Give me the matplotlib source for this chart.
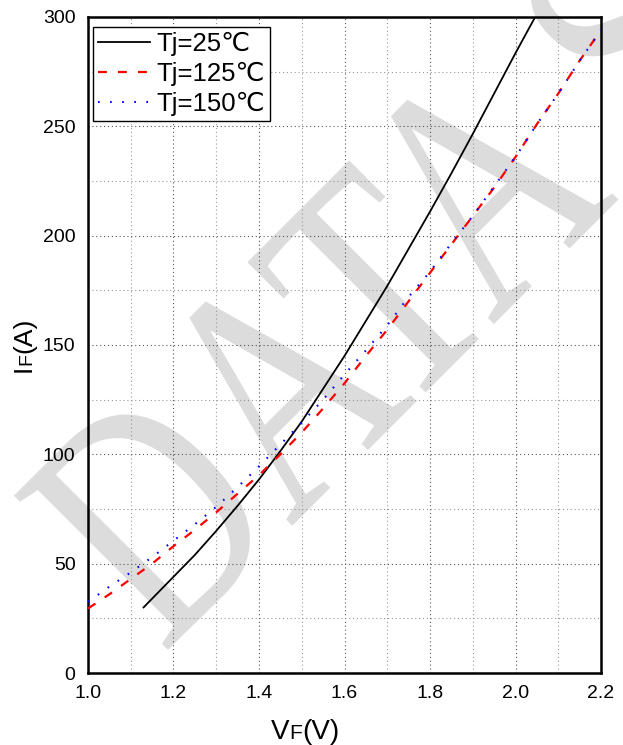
import numpy as np
import matplotlib
matplotlib.use("Agg")
import matplotlib.pyplot as plt
from matplotlib.ticker import MultipleLocator
from matplotlib.textpath import TextPath
from matplotlib.patches import PathPatch
from matplotlib.font_manager import FontProperties
from matplotlib.transforms import Affine2D

# %% ---------------------------------
#           data
# ------------------------------------
vf_25 = [1.13, 1.20, 1.25, 1.30, 1.35, 1.40, 1.45, 1.50, 1.55, 1.60, 1.65,
         1.70, 1.75, 1.80, 1.85, 1.90, 1.95, 2.00, 2.046]
if_25 = [30, 44, 54, 65, 76.5, 88.5, 101.5, 115, 130, 145, 161,
         177, 194, 211, 228.5, 246.5, 265, 283.5, 300]

vf_125 = [1.00, 1.05, 1.10, 1.15, 1.20, 1.25, 1.30, 1.35, 1.40, 1.45, 1.50, 1.55, 1.60,
          1.65, 1.70, 1.75, 1.80, 1.85, 1.90, 1.95, 2.00, 2.05, 2.10, 2.15, 2.20]
if_125 = [29.5, 36, 43, 50, 58, 65.5, 73.5, 82, 90.5, 100, 110, 121, 132.5,
          145, 157, 170, 183, 196, 209, 222, 236, 251, 265, 280, 294]

vf_150 = [1.00, 1.05, 1.10, 1.15, 1.20, 1.25, 1.30, 1.35, 1.40, 1.45, 1.50, 1.55, 1.60,
          1.65, 1.70, 1.75, 1.80, 1.85, 1.90, 1.95, 2.00, 2.05, 2.10, 2.15, 2.20]
if_150 = [32.5, 39.5, 46, 53, 60.5, 68, 76, 85, 94.5, 104.5, 114.5, 125, 136.5,
          147.5, 159, 172, 183.5, 196.5, 209, 222.5, 236, 251, 265, 280, 294]

labels = ["Tj=25℃", "Tj=125℃", "Tj=150℃"]
x_ticks = [1.0, 1.2, 1.4, 1.6, 1.8, 2.0, 2.2]
y_ticks = [0, 50, 100, 150, 200, 250, 300]

# %% ---------------------------------
#           figure
# ------------------------------------
plt.rcParams['font.family'] = ['Liberation Sans', 'DejaVu Sans']
W, H = 623, 745
fig = plt.figure(figsize=(W / 100, H / 100), dpi=100)
ax = fig.add_axes([88 / W, 1 - 673 / H, (601 - 88) / W, (673 - 17) / H])
ax.set_facecolor('none')

# watermark (condensed serif, rotated), drawn in pixel coords behind the axes
wm_path = TextPath((0, 0), "DATA SHEET", size=333, prop=FontProperties(family='Liberation Serif'))
wm_tr = Affine2D().scale(0.75, 1.0).rotate_deg(45).translate(163, H - 655)
wm = PathPatch(wm_path, transform=wm_tr, facecolor='#dcdcdc', edgecolor='none', zorder=-1)
fig.add_artist(wm)

ax.plot(vf_25, if_25, color='black', lw=1.3, label=labels[0], zorder=3)
ax.plot(vf_125, if_125, color='red', lw=1.6, ls=(0, (4, 5)), label=labels[1], zorder=3)
ax.plot(vf_150, if_150, color='blue', lw=1.5, ls=(0, (0.8, 5)), label=labels[2], zorder=4)

ax.set_xlim(1.0, 2.2)
ax.set_ylim(0, 300)
ax.set_xticks(x_ticks)
ax.set_xticklabels([f"{v:.1f}" for v in x_ticks])
ax.set_yticks(y_ticks)
ax.xaxis.set_minor_locator(MultipleLocator(0.1))
ax.yaxis.set_minor_locator(MultipleLocator(25))
ax.tick_params(which='both', length=0, labelsize=14, pad=9)
ax.grid(which='major', color='#555555', ls=(0, (1, 2.5)), lw=0.8)
ax.grid(which='minor', color='#999999', ls=(0, (1, 2.5)), lw=0.8)
ax.set_axisbelow(True)
for sp in ax.spines.values():
    sp.set_linewidth(1.8)

leg = ax.legend(loc='upper left', bbox_to_anchor=(5 / 513, 1 - 10 / 656), fontsize=18.5,
                frameon=True, fancybox=False, framealpha=1, edgecolor='black',
                borderpad=0.2, labelspacing=0.22, handlelength=2.0, handletextpad=0.25,
                borderaxespad=0)
leg.get_frame().set_linewidth(1.0)


# %% ---------------------------------
#     axis labels with small "F"
# ------------------------------------
def draw_label(pieces, cx, cy, vertical=False):
    r = fig.canvas.get_renderer()
    widths = []
    for s, size in pieces:
        t = fig.text(0, 0, s, fontsize=size)
        widths.append(t.get_window_extent(r).width)
        t.remove()
    total = sum(widths)
    pos = -total / 2
    for (s, size), w in zip(pieces, widths):
        if vertical:
            fig.text(cx / W, 1 - (cy - pos) / H, s, fontsize=size, rotation=90,
                     rotation_mode='anchor', ha='left', va='baseline')
        else:
            fig.text((cx + pos) / W, 1 - cy / H, s, fontsize=size,
                     ha='left', va='baseline')
        pos += w


fig.canvas.draw()
draw_label([("V", 20), ("F", 15), ("(V)", 20)], 305, 739)
draw_label([("I", 19), ("F", 14), ("(A)", 19)], 31, 345, vertical=True)

fig.savefig("out.png", dpi=100)
